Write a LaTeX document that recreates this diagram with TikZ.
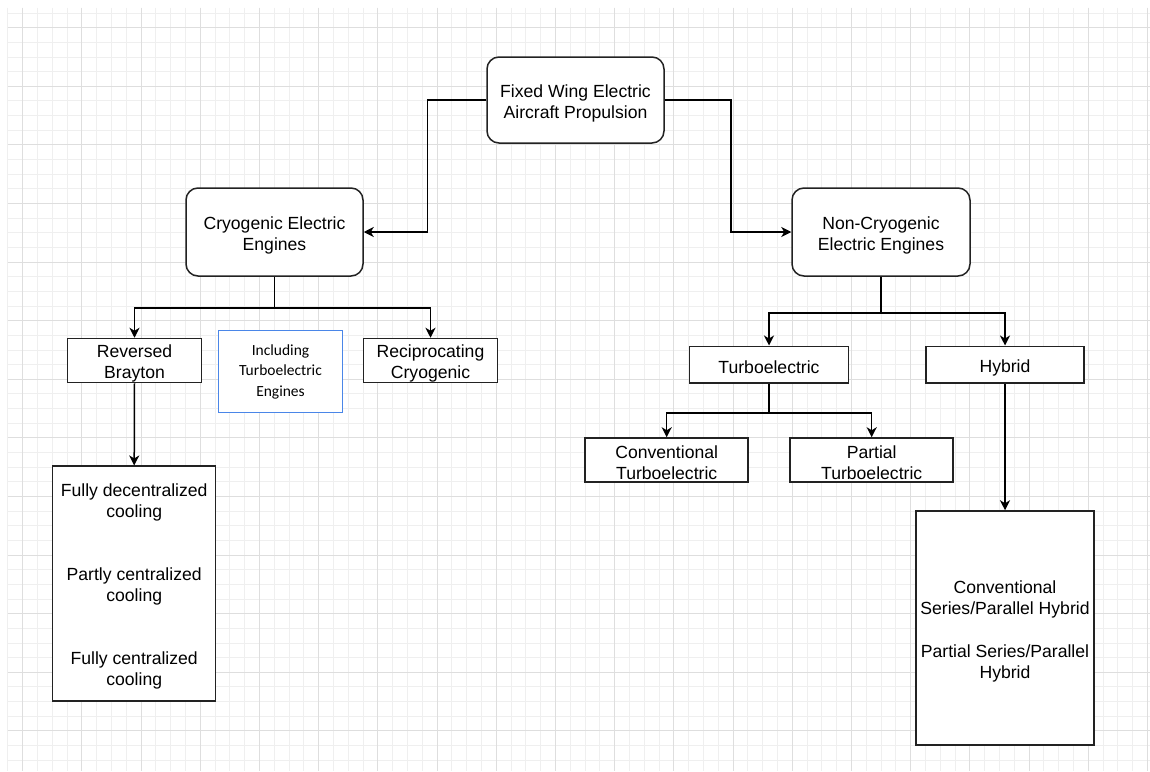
\documentclass[tikz,border=0pt]{standalone}
\usepackage{fontspec}
\setmainfont{Liberation Sans}
\newfontfamily\calibrifont{Carlito}
\usetikzlibrary{arrows.meta}
\definecolor{gridminor}{HTML}{EFEFEF}
\definecolor{gridmajor}{HTML}{DEDEDE}
\definecolor{boxline}{HTML}{222222}
\definecolor{noteblue}{HTML}{4A86E8}
\newcommand\tstrut{\rule{0pt}{19pt}}
\tikzset{
  basebox/.style={draw=boxline, line width=1.5pt, fill=white, inner sep=0pt, align=center,
     font=\fontsize{17.6}{21}\selectfont, text=black},
  roundbox/.style={basebox, rounded corners=12pt},
  sqbox/.style={basebox},
  notebox/.style={draw=noteblue, line width=1pt, fill=white, inner sep=0pt, align=center,
     font=\calibrifont\fontsize{15.5}{20.5}\selectfont},
  conn/.style={draw=black, line width=1.5pt, -{Stealth[length=10pt,width=10pt,inset=3pt]}},
  plainconn/.style={draw=black, line width=1.5pt}
}
\begin{document}
\begin{tikzpicture}[x=1pt,y=-1pt]
\useasboundingbox (0,0) rectangle (1150,771);
\fill[white] (0,0) rectangle (1150,771);
% grid
\foreach \i in {0,...,77}{\draw[gridminor, line width=1pt] ({7.9+\i*14.8},7.5) -- ({7.9+\i*14.8},771);}
\foreach \i in {0,...,51}{\draw[gridminor, line width=1pt] (7.5,{13.05+\i*14.65}) -- (1150,{13.05+\i*14.65});}
\foreach \i in {0,...,19}{\draw[gridmajor, line width=1pt] ({22.7+\i*59.2},7.5) -- ({22.7+\i*59.2},771);}
\foreach \i in {0,...,12}{\draw[gridmajor, line width=1pt] (7.5,{27.7+\i*58.6}) -- (1150,{27.7+\i*58.6});}

% nodes
\node[roundbox, minimum width=177pt, minimum height=86pt] (root) at (575.5,100) {\tstrut Fixed Wing Electric\\Aircraft Propulsion};
\node[roundbox, minimum width=177pt, minimum height=88pt] (cryo) at (274.5,232) {\tstrut Cryogenic Electric\\Engines};
\node[roundbox, minimum width=178pt, minimum height=88pt] (ncryo) at (881,232) {\tstrut Non-Cryogenic\\Electric Engines};

\node[sqbox, minimum width=134pt, minimum height=44pt] (brayton) at (134.5,360.5) {\tstrut Reversed\\Brayton};
\node[notebox, minimum width=124.5pt, minimum height=81.5pt] (note) at (280.5,371.5) {Including\\Turboelectric\\Engines};
\node[sqbox, minimum width=134pt, minimum height=44pt] (recip) at (430.5,360.5) {\tstrut Reciprocating\\Cryogenic};

\node[sqbox, minimum width=163pt, minimum height=235pt] (cool) at (134.2,583.7)
  {\tstrut Fully decentralized\\cooling\\[42pt]Partly centralized\\cooling\\[42pt]Fully centralized\\cooling};

\node[sqbox, minimum width=159pt, minimum height=36.5pt] (turbo) at (769,364.5) {\tstrut Turboelectric};
\node[sqbox, minimum width=158pt, minimum height=36.5pt] (hybrid) at (1005,364.5) {\tstrut Hybrid};

\node[sqbox, minimum width=163pt, minimum height=44pt] (conv) at (666.7,460) {\tstrut Conventional\\Turboelectric};
\node[sqbox, minimum width=163pt, minimum height=44pt] (partial) at (871.7,460) {\tstrut Partial\\Turboelectric};

\node[sqbox, minimum width=178pt, minimum height=234pt] (hbig) at (1005,628)
  {\rule{0pt}{20pt}Conventional\\Series/Parallel Hybrid\\[22pt]Partial Series/Parallel\\Hybrid};

% connectors
\draw[conn] (root.west) -- ++(-59,0) |- (cryo.east);
\draw[conn] (root.east) -- ++(66,0) |- (ncryo.west);

\draw[plainconn] (cryo.south) -- ++(0,31) coordinate (cbus);
\draw[conn] (cbus) -| (brayton.north);
\draw[conn] (cbus) -| (recip.north);
\draw[conn] (brayton.south) -- (cool.north);

\draw[plainconn] (ncryo.south) -- ++(0,36) coordinate (nbus);
\draw[conn] (nbus) -| (turbo.north);
\draw[conn] (nbus) -| (hybrid.north);

\draw[plainconn] (turbo.south) -- ++(0,29.5) coordinate (tbus);
\draw[conn] (tbus) -| (conv.north);
\draw[conn] (tbus) -| (partial.north);

\draw[conn] (hybrid.south) -- (hbig.north);
\end{tikzpicture}
\end{document}
